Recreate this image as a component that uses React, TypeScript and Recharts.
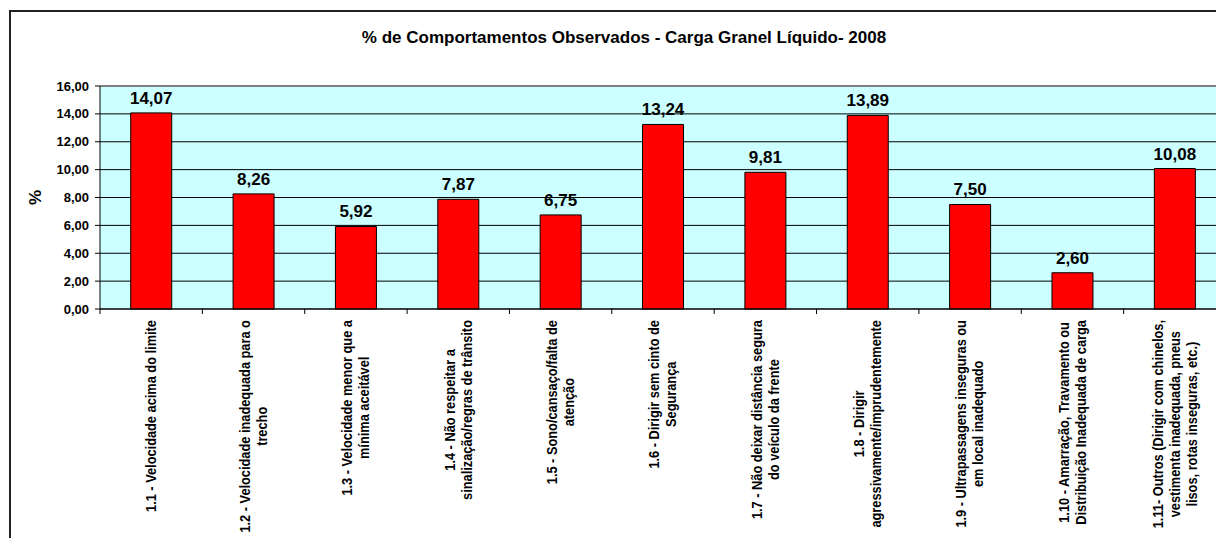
import React from 'react';
import { BarChart, Bar, XAxis, YAxis, CartesianGrid, LabelList, ReferenceLine } from 'recharts';

const categories: string[] = [
  '1.1 - Velocidade acima do limite',
  '1.2 - Velocidade inadequada para o\ntrecho',
  '1.3 - Velocidade menor que a\nmínima aceitável',
  '1.4 - Não respeitar a\nsinalização/regras de trânsito',
  '1.5 - Sono/cansaço/falta de\natenção',
  '1.6 - Dirigir sem cinto de\nSegurança',
  '1.7 - Não deixar distância segura\ndo veículo da frente',
  '1.8 - Dirigir\nagressivamente/imprudentemente',
  '1.9 - Ultrapassagens inseguras ou\nem local inadequado',
  '1.10 - Amarração, Travamento ou\nDistribuição Inadequada de carga',
  '1.11- Outros (Dirigir com chinelos,\nvestimenta inadequada, pneus\nlisos, rotas inseguras, etc.)',
];

const values: number[] = [14.07, 8.26, 5.92, 7.87, 6.75, 13.24, 9.81, 13.89, 7.5, 2.6, 10.08];

const yTicks: number[] = [0, 2, 4, 6, 8, 10, 12, 14, 16];

const title = '% de Comportamentos Observados - Carga Granel Líquido- 2008';
const yLabel = '%';

const data = categories.map((c, i) => ({ name: c, value: values[i] }));

const FONT = '"Liberation Sans", Arial, Helvetica, sans-serif';
const TICK_FONT_SIZE = 12.8;
const LINE_H = 17;

let ctx: CanvasRenderingContext2D | null = null;
function measure(s: string): number {
  if (!ctx) {
    const c = document.createElement('canvas');
    ctx = c.getContext('2d');
  }
  if (!ctx) return s.length * TICK_FONT_SIZE * 0.6;
  ctx.font = `bold ${TICK_FONT_SIZE}px ${FONT}`;
  return ctx.measureText(s).width;
}

const fmt = (v: number) => v.toFixed(2).replace('.', ',');

const XTick = (props: any) => {
  const { x, y, payload } = props;
  const lines: string[] = String(payload.value).split('\n');
  const maxW = Math.max(...lines.map(measure));
  const cy = y + 11 + maxW / 2;
  const n = lines.length;
  const off = payload.offset || 0;
  return (
    <g>
      <line x1={x - off} x2={x - off} y1={y} y2={y + 5} stroke="#000" strokeWidth={1} />
      {lines.map((ln, i) => {
        const lx = x + (i - (n - 1) / 2) * LINE_H;
        return (
          <text
            key={i}
            transform={`translate(${lx},${cy}) rotate(-90) scale(1,1.15)`}
            textAnchor="middle"
            dominantBaseline="central"
            fontFamily={FONT}
            fontWeight="bold"
            fontSize={TICK_FONT_SIZE}
            fill="#000"
          >
            {ln}
          </text>
        );
      })}
    </g>
  );
};

const YLabel = (props: any) => {
  const vb = props.viewBox || {};
  const x = (vb.x || 0) + 35;
  const y = (vb.y || 0) + (vb.height || 0) / 2;
  return (
    <text
      transform={`translate(${x},${y}) rotate(-90)`}
      textAnchor="middle"
      dominantBaseline="central"
      fontFamily={FONT}
      fontWeight="bold"
      fontSize={17}
      fill="#000"
    >
      {yLabel}
    </text>
  );
};

export default function App() {
  return (
    <div
      style={{
        position: 'relative',
        marginLeft: -8,
        marginTop: -8,
        width: 1224,
        height: 538,
        overflow: 'hidden',
        background: '#fff',
      }}
    >
      <div
        style={{
          position: 'absolute',
          left: 9,
          top: 10,
          width: 1400,
          height: 700,
          borderLeft: '2px solid #222',
          borderTop: '2px solid #222',
        }}
      />
      <div
        style={{
          position: 'absolute',
          left: 0,
          top: 28,
          width: 1248,
          textAlign: 'center',
          fontFamily: FONT,
          fontWeight: 'bold',
          fontSize: 17,
          lineHeight: '20px',
          color: '#000',
        }}
      >
        {title}
      </div>
      <div style={{ position: 'absolute', left: 0, top: 0 }}>
        <BarChart
          width={1260}
          height={538}
          data={data}
          margin={{ top: 86, right: 34, left: 0, bottom: 0 }}
          barCategoryGap="30%"
        >
          <CartesianGrid
            horizontal={true}
            vertical={false}
            stroke="#000"
            strokeWidth={1}
            fill="#CCFFFF"
            fillOpacity={1}
          />
          <ReferenceLine y={16} stroke="#808080" strokeWidth={2} />
          <XAxis
            dataKey="name"
            type="category"
            height={229}
            interval={0}
            tickLine={false}
            tickSize={0}
            tickMargin={0}
            axisLine={{ stroke: '#000', strokeWidth: 1 }}
            tick={<XTick />}
          />
          <YAxis
            type="number"
            domain={[0, 16]}
            ticks={yTicks}
            interval={0}
            width={100}
            tickSize={5}
            tickMargin={6}
            tickFormatter={fmt}
            axisLine={{ stroke: '#000', strokeWidth: 1 }}
            tickLine={{ stroke: '#000', strokeWidth: 1 }}
            tick={{ fill: '#000', fontFamily: FONT, fontWeight: 'bold', fontSize: 13 }}
            label={<YLabel />}
          />
          <Bar dataKey="value" fill="#FF0000" stroke="#000" strokeWidth={1} isAnimationActive={false}>
            <LabelList
              dataKey="value"
              position="top"
              offset={9}
              formatter={(v: any) => fmt(Number(v))}
              style={{ fontFamily: FONT, fontWeight: 'bold', fontSize: 17, fill: '#000' }}
            />
          </Bar>
        </BarChart>
      </div>
    </div>
  );
}
